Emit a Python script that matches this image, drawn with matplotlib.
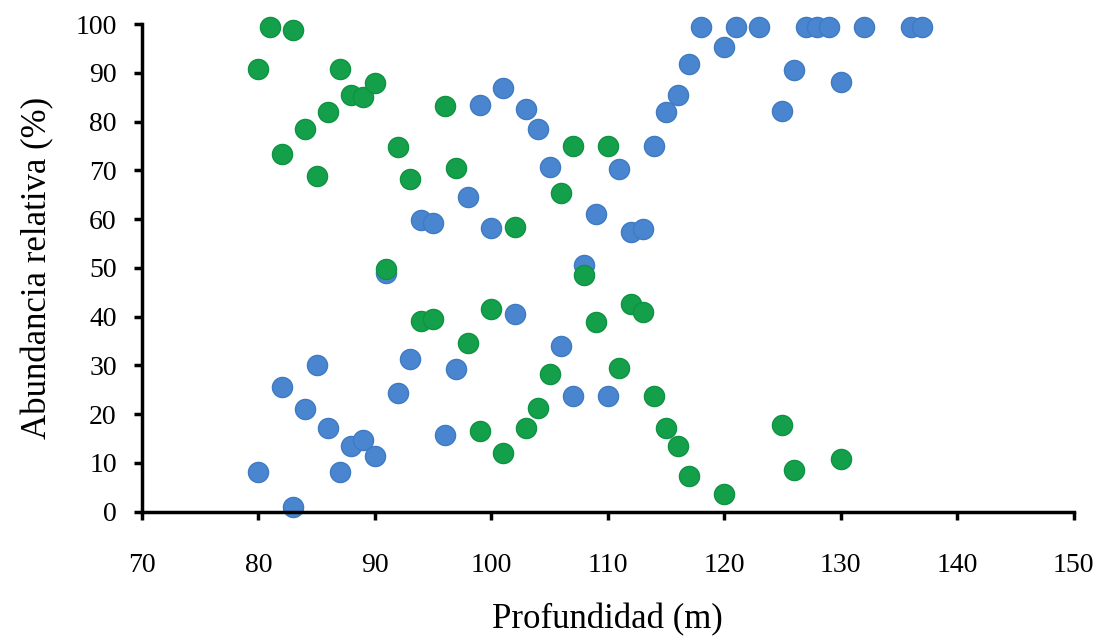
import numpy as np
import matplotlib.pyplot as plt

plt.rc("font", family="serif", serif=["Liberation Serif", "DejaVu Serif"])

# depth (m) and relative abundance (%) of the two groups
depth_blue = [80, 82, 83, 84, 85, 86, 87, 88, 89, 90, 91, 92, 93, 94, 95, 96, 97, 98,
              99, 100, 101, 102, 103, 104, 105, 106, 107, 108, 109, 110, 111, 112, 113,
              114, 115, 116, 117, 118, 120, 121, 123, 125, 126, 127, 128, 129, 130,
              132, 136, 137]
abund_blue = [8.1, 25.5, 0.9, 21.1, 30.1, 17.1, 8.1, 13.5, 14.6, 11.3, 48.9, 24.3, 31.3,
              59.8, 59.3, 15.7, 29.2, 64.5, 83.4, 58.1, 86.9, 40.5, 82.6, 78.5, 70.7,
              33.9, 23.7, 50.6, 61.0, 23.7, 70.2, 57.3, 58.0, 75.1, 81.9, 85.5, 91.9,
              99.5, 95.4, 99.5, 99.5, 82.1, 90.5, 99.5, 99.5, 99.5, 88.2, 99.5, 99.5,
              99.5]

depth_green = [80, 81, 82, 83, 84, 85, 86, 87, 88, 89, 90, 91, 92, 93, 94, 95, 96, 97,
               98, 99, 100, 101, 102, 103, 104, 105, 106, 107, 108, 109, 110, 111, 112,
               113, 114, 115, 116, 117, 120, 125, 126, 130]
abund_green = [90.8, 99.5, 73.4, 98.8, 78.5, 68.9, 81.9, 90.8, 85.5, 85.1, 87.9, 49.7,
               74.9, 68.2, 39.0, 39.5, 83.2, 70.5, 34.5, 16.6, 41.6, 12.1, 58.4, 17.1,
               21.3, 28.3, 65.3, 75.1, 48.6, 38.9, 75.1, 29.4, 42.5, 40.9, 23.7, 17.2,
               13.5, 7.2, 3.6, 17.8, 8.6, 10.8]

fig = plt.figure(figsize=(10.99, 6.37), dpi=100)
ax = fig.add_axes([0.129, 0.197, 0.848, 0.765])

ax.scatter(depth_green, abund_green, s=210, color='#14a04a', edgecolor='#0e9342',
           linewidth=1, zorder=3, clip_on=False)
ax.scatter(depth_blue, abund_blue, s=210, color='#4a86d0', edgecolor='#3f7bc4',
           linewidth=1, zorder=2, clip_on=False)

ax.set_xlim(70, 150)
ax.set_ylim(0, 100)
ax.set_xticks(np.arange(70, 151, 10))
ax.set_yticks(np.arange(0, 101, 10))

for s in ['top', 'right']:
    ax.spines[s].set_visible(False)
for s in ['left', 'bottom']:
    ax.spines[s].set_linewidth(2.5)
ax.tick_params(direction='out', length=6, width=2.5, labelsize=20, pad=12)
ax.tick_params(axis='x', pad=24)

ax.set_xlabel('Profundidad (m)', fontsize=25, labelpad=18)
ax.set_ylabel('Abundancia relativa (%)', fontsize=25, labelpad=15)

plt.savefig('out.png', dpi=100)
